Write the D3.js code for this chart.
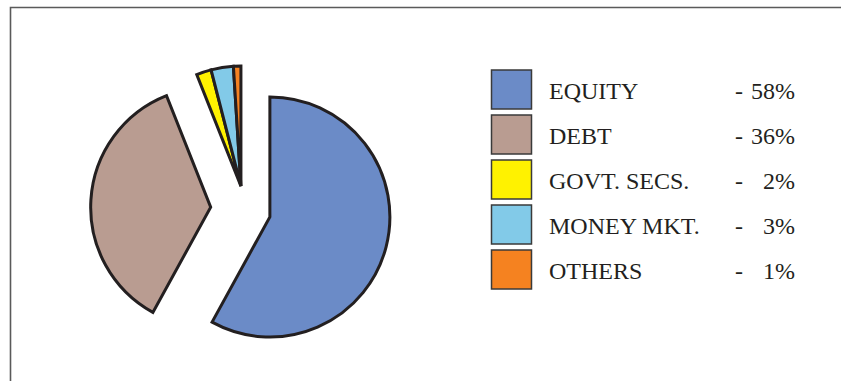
<!DOCTYPE html>
<html>
<head>
<meta charset="utf-8">
<script src="https://cdn.jsdelivr.net/npm/d3@7"></script>
<style>
  html, body { margin: 0; padding: 0; background: #fff; }
  svg { display: block; }
  text { font-family: "Liberation Serif", "Times New Roman", serif; fill: #231f20; }
</style>
</head>
<body>
<div id="chart"></div>
<script>
// Data
const categories = ['EQUITY', 'DEBT', 'GOVT. SECS.', 'MONEY MKT.', 'OTHERS'];
const shares = [58, 36, 2, 3, 1];

// Styling
const colors = ['#6b8bc7', '#b99c91', '#fff200', '#82cae8', '#f58220'];
// explode: [distance px, direction in degrees clockwise from 12 o'clock]
const explode = [[4, 104], [56, 279], [39, 320], [39, 320], [39, 320]];

const width = 841, height = 381;
const center = { x: 266, y: 216 };
const radius = 120;

const svg = d3.select('#chart')
    .append('svg')
    .attr('width', width)
    .attr('height', height);

// Frame (top and left edges visible)
svg.append('path')
    .attr('d', `M10.5,${height}V7.5H${width}`)
    .attr('fill', 'none')
    .attr('stroke', '#5a5a5a')
    .attr('stroke-width', 1.6);

// Pie
const pie = d3.pie().sort(null).value(d => d).startAngle(0).endAngle(2 * Math.PI);
const arc = d3.arc().innerRadius(0).outerRadius(radius);
const arcs = pie(shares);

const pieG = svg.append('g')
    .attr('transform', `translate(${center.x},${center.y})`);

pieG.selectAll('.slice')
    .data(arcs)
    .enter()
    .append('path')
    .attr('class', 'slice')
    .attr('transform', (d, i) => {
        const [dist, deg] = explode[i];
        const a = deg * Math.PI / 180;
        return `translate(${dist * Math.sin(a)},${-dist * Math.cos(a)})`;
    })
    .attr('d', arc)
    .attr('fill', (d, i) => colors[i])
    .attr('stroke', '#231f20')
    .attr('stroke-width', 3)
    .attr('stroke-linejoin', 'miter');

// Legend
const legend = { x: 491.5, y: 70, box: 40, boxH: 39, step: 45 };

const rows = svg.selectAll('.legend-row')
    .data(categories)
    .enter()
    .append('g')
    .attr('class', 'legend-row')
    .attr('transform', (d, i) => `translate(0,${legend.y + i * legend.step})`);

rows.append('rect')
    .attr('x', legend.x)
    .attr('y', 0)
    .attr('width', legend.box)
    .attr('height', legend.boxH)
    .attr('fill', (d, i) => colors[i])
    .attr('stroke', '#3a3a3a')
    .attr('stroke-width', 1.5);

rows.append('text')
    .attr('x', 549)
    .attr('y', 28.5)
    .attr('font-size', 24)
    .text(d => d);

rows.append('text')
    .attr('x', 735)
    .attr('y', 28.5)
    .attr('font-size', 24)
    .text('-');

rows.append('text')
    .attr('x', 795)
    .attr('y', 28.5)
    .attr('font-size', 24)
    .attr('text-anchor', 'end')
    .text((d, i) => `${shares[i]}%`);
</script>
</body>
</html>
